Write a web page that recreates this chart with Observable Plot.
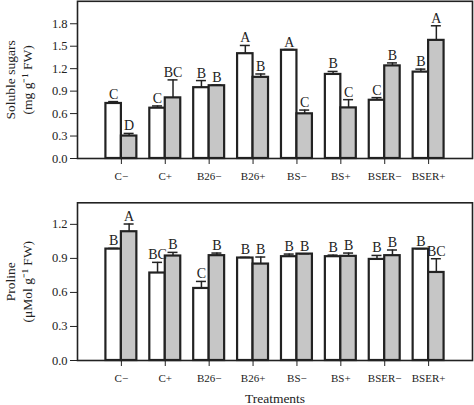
<!DOCTYPE html>
<html>
<head>
<meta charset="utf-8">
<script src="https://cdn.jsdelivr.net/npm/d3@7"></script>
<script src="https://cdn.jsdelivr.net/npm/@observablehq/plot@0.6"></script>
<style>
  html, body { margin: 0; padding: 0; background: #fff; }
  #chart svg { display: block; }
</style>
</head>
<body>
<div id="chart"></div>
<script>
const categories = ["C−", "C+", "B26−", "B26+", "BS−", "BS+", "BSER−", "BSER+"];

const sugarWhite = [0.735, 0.672, 0.946, 1.40, 1.446, 1.123, 0.778, 1.154];
const sugarWhiteErr = [0.025, 0.03, 0.095, 0.11, 0.01, 0.04, 0.035, 0.04];
const sugarWhiteLetters = ["C", "C", "B", "A", "A", "B", "C", "B"];
const sugarGray = [0.30, 0.81, 0.972, 1.084, 0.597, 0.676, 1.237, 1.578];
const sugarGrayErr = [0.035, 0.24, 0.01, 0.045, 0.05, 0.11, 0.04, 0.195];
const sugarGrayLetters = ["D", "BC", "B", "B", "C", "C", "B", "A"];
const sugarTicks = [0, 0.3, 0.6, 0.9, 1.2, 1.5, 1.8];

const prolineWhite = [0.982, 0.771, 0.635, 0.903, 0.915, 0.915, 0.891, 0.982];
const prolineWhiteErr = [0.006, 0.094, 0.062, 0.006, 0.023, 0.014, 0.035, 0.003];
const prolineWhiteLetters = ["B", "BC", "C", "B", "B", "B", "B", "B"];
const prolineGray = [1.135, 0.921, 0.924, 0.85, 0.938, 0.918, 0.924, 0.776];
const prolineGrayErr = [0.068, 0.032, 0.023, 0.062, 0.003, 0.029, 0.05, 0.121];
const prolineGrayLetters = ["A", "B", "B", "B", "B", "B", "B", "BC"];
const prolineTicks = [0, 0.3, 0.6, 0.9, 1.2];

const FONT = "Liberation Serif, Times New Roman, serif";
const INK = "#222";
const GRAY = "#c6c6c6";
const W = 474, ML = 77, MR = 2;
const step = (W - ML - MR) / 9;
const bw = step * 0.705;
const half = bw / 2;
const q = bw / 4;
const capHalf = 5;

function rows(values, errs, letters) {
  return categories.map((c, i) => ({cat: c, v: values[i], e: values[i] + errs[i], l: letters[i]}));
}

function panel({white, gray, ticks, domain, height, marginTop, marginBottom, label, xLabel}) {
  const marks = [
    Plot.barY(white, {x: "cat", y: "v", fill: "white", stroke: INK, strokeWidth: 2.2, insetRight: half}),
    Plot.barY(gray, {x: "cat", y: "v", fill: GRAY, stroke: INK, strokeWidth: 2.2, insetLeft: half}),
    Plot.ruleX(white, {x: "cat", y1: "v", y2: "e", dx: -q, stroke: INK, strokeWidth: 1.5}),
    Plot.ruleX(gray, {x: "cat", y1: "v", y2: "e", dx: q, stroke: INK, strokeWidth: 1.5}),
    Plot.tickY(white, {x: "cat", y: "e", stroke: INK, strokeWidth: 1.5, insetLeft: q - capHalf, insetRight: bw - q - capHalf}),
    Plot.tickY(gray, {x: "cat", y: "e", stroke: INK, strokeWidth: 1.5, insetLeft: bw - q - capHalf, insetRight: q - capHalf}),
    Plot.text(white, {x: "cat", y: "e", text: "l", dx: -q, dy: -3, lineAnchor: "bottom", fontSize: 14, fill: INK}),
    Plot.text(gray, {x: "cat", y: "e", text: "l", dx: q, dy: -3, lineAnchor: "bottom", fontSize: 14, fill: INK}),
    Plot.axisY({ticks: ticks, tickFormat: d3.format(".1f"), tickSize: 7, tickPadding: 3, fontSize: 12.5, label: null, stroke: INK}),
    Plot.axisX({tickSize: 6, tickPadding: 8, fontSize: 11, label: null, stroke: INK}),
    Plot.frame({stroke: INK, strokeWidth: 1.6}),
    Plot.text([label], {frameAnchor: "left", dx: 18 - ML, rotate: -90, textAnchor: "middle", lineAnchor: "middle", fontSize: 13.5, lineHeight: 1.25, fill: INK})
  ];
  if (xLabel) {
    marks.push(Plot.text([xLabel], {frameAnchor: "bottom", dy: 42, fontSize: 13.5, fill: INK}));
  }
  return Plot.plot({
    width: W,
    height,
    marginLeft: ML,
    marginRight: MR,
    marginTop,
    marginBottom,
    style: {fontFamily: FONT, color: INK, background: "white"},
    x: {type: "band", domain: categories, paddingInner: 0.295, paddingOuter: 0.6475, round: false, axis: null},
    y: {domain, axis: null},
    marks
  });
}

const sugarPanel = panel({
  white: rows(sugarWhite, sugarWhiteErr, sugarWhiteLetters),
  gray: rows(sugarGray, sugarGrayErr, sugarGrayLetters),
  ticks: sugarTicks,
  domain: [0, 2.1],
  height: 188,
  marginTop: 0.8,
  marginBottom: 30,
  label: "Soluble sugars\n(mg g⁻¹ FW)"
});

const prolinePanel = panel({
  white: rows(prolineWhite, prolineWhiteErr, prolineWhiteLetters),
  gray: rows(prolineGray, prolineGrayErr, prolineGrayLetters),
  ticks: prolineTicks,
  domain: [0, 1.39],
  height: 217,
  marginTop: 14.3,
  marginBottom: 45,
  label: "Proline\n(μMol g⁻¹ FW)",
  xLabel: "Treatments"
});

const chart = document.getElementById("chart");
chart.appendChild(sugarPanel);
chart.appendChild(prolinePanel);
</script>
</body>
</html>
